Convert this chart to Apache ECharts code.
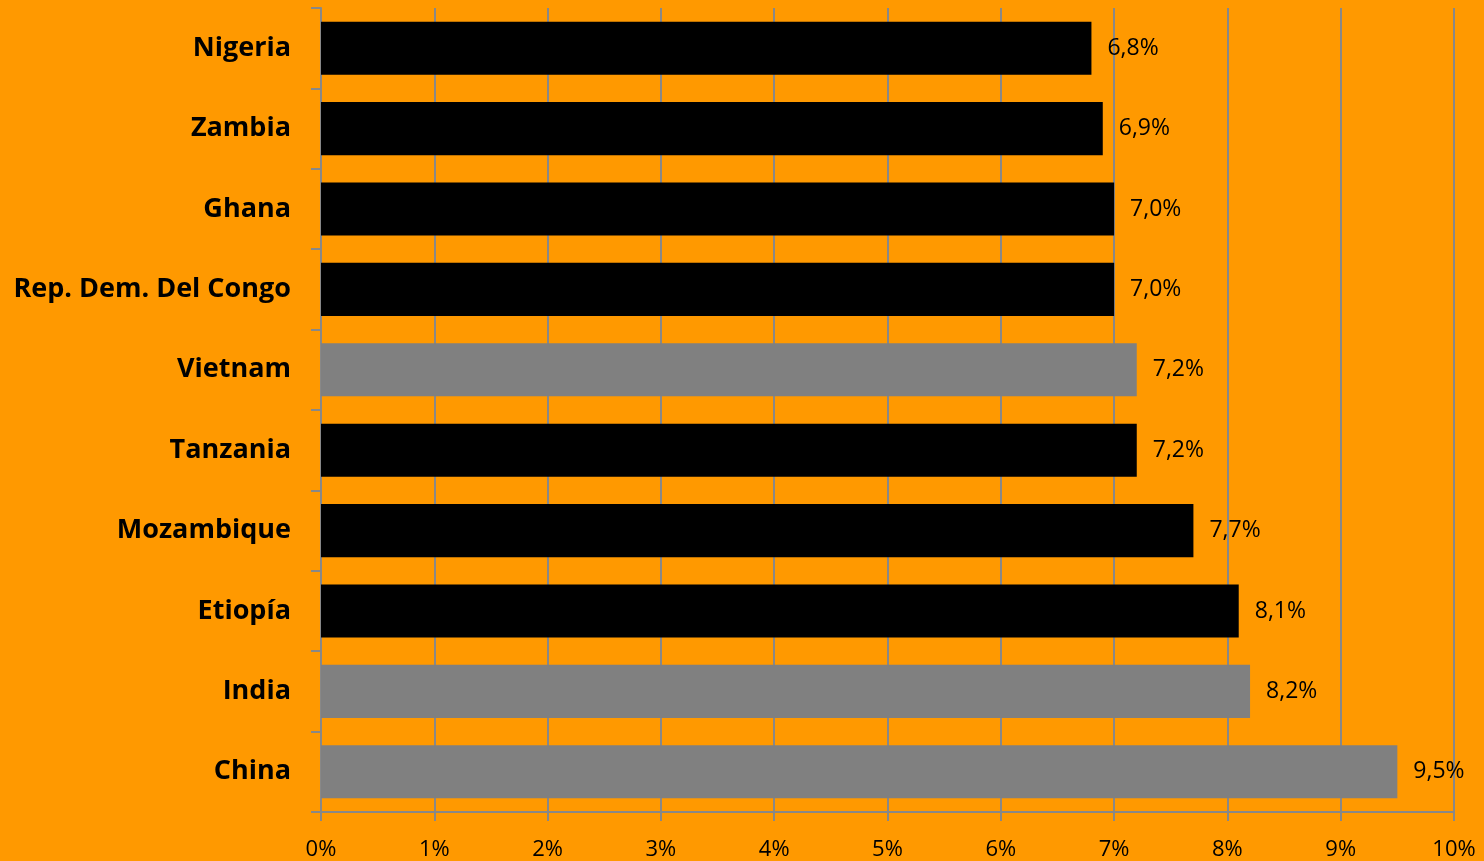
<!DOCTYPE html>
<html><head><meta charset="utf-8">
<style>html,body{margin:0;padding:0;background:#FF9900;}#c{width:1484px;height:861px;}</style>
<script src="https://cdn.jsdelivr.net/npm/echarts@6/dist/echarts.min.js"></script>
</head><body><div id="c"></div>
<script>
const categories = ["Nigeria","Zambia","Ghana","Rep. Dem. Del Congo","Vietnam","Tanzania","Mozambique","Etiopía","India","China"];
const values = [6.8, 6.9, 7.0, 7.0, 7.2, 7.2, 7.7, 8.1, 8.2, 9.5];
const grayCountries = ["Vietnam","India","China"];
const tickLabels = ["0%","1%","2%","3%","4%","5%","6%","7%","8%","9%","10%"];

const chart = echarts.init(document.getElementById('c'));
const FONT = '"Open Sans", sans-serif';
chart.setOption({
  backgroundColor: '#FF9900',
  animation: false,
  grid: {left: 321, right: 30, top: 8, bottom: 47, containLabel: false},
  xAxis: {
    type: 'value', min: 0, max: 10, interval: 1,
    axisLine: {show: true, lineStyle: {color: '#888888', width: 2}},
    axisTick: {show: true, length: 9, lineStyle: {color: '#888888', width: 2}},
    splitLine: {show: true, lineStyle: {color: '#888888', width: 2}},
    axisLabel: {margin: 27, color: '#000', fontSize: 22, fontFamily: FONT,
      formatter: v => tickLabels[Math.round(v)]}
  },
  yAxis: {
    type: 'category', data: categories, inverse: true,
    axisLine: {show: true, lineStyle: {color: '#888888', width: 2}},
    axisTick: {show: true, length: 10, alignWithLabel: false, lineStyle: {color: '#888888', width: 2}},
    axisLabel: {margin: 30, color: '#000', fontSize: 27, fontWeight: 'bold', fontFamily: FONT, padding: [3, 0, 0, 0]}
  },
  series: [{
    type: 'bar',
    barCategoryGap: '34%',
    data: values.map((v, i) => ({
      value: v,
      itemStyle: {color: grayCountries.includes(categories[i]) ? '#808080' : '#000000'}
    })),
    label: {show: true, position: 'right', distance: 16, color: '#000', fontSize: 23, fontFamily: FONT,
      padding: [3, 0, 0, 0],
      formatter: p => p.value.toFixed(1).replace('.', ',') + '%'}
  }]
});
</script></body></html>
